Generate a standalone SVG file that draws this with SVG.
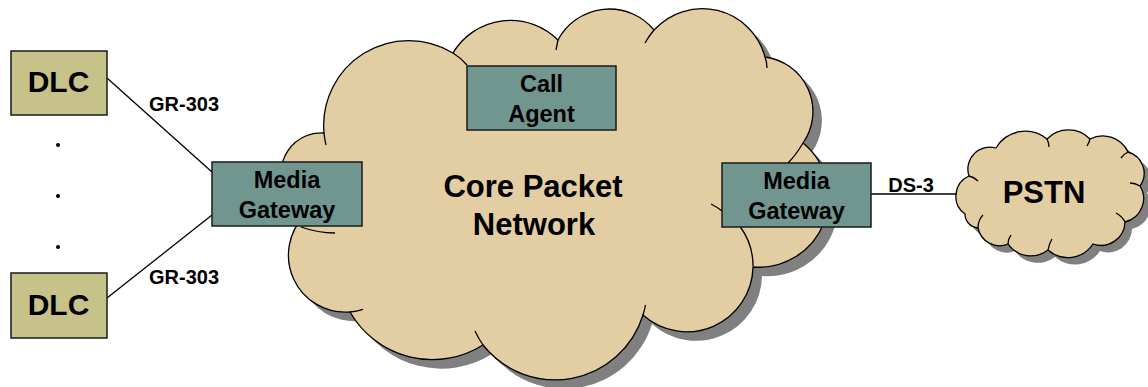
<svg xmlns="http://www.w3.org/2000/svg" width="1148" height="387" viewBox="0 0 1148 387">
  <style>
    text { font-family: "Liberation Sans", Arial, sans-serif; font-weight: bold; fill: #000; text-anchor: middle; }
    .cloud { fill: #E3CDA3; stroke: #000; stroke-width: 1.3; }
    .shadow { fill: #808080; stroke: none; }
    .tail { fill: none; stroke: #000; stroke-width: 1.3; }
    .box { fill: #70968F; stroke: #1a1a1a; stroke-width: 1.5; }
    .dlc { fill: #C6C28A; stroke: #1a1a1a; stroke-width: 1.5; }
    .link { fill: none; stroke: #000; stroke-width: 1.3; }
    .dot { fill: #000; }
    .big { font-size: 31px; }
    .mid { font-size: 23.5px; }
    .lbl { font-size: 20px; }
    .dlct { font-size: 30px; }
  </style>
  <defs>
    <!-- outline of the large network cloud -->
    <path id="coreShape" d="M 285 190 A 40 40 0 0 1 324 133 A 85 85 0 0 1 453 53 A 67 67 0 0 1 558 40 A 58 58 0 0 1 654 30 A 65 65 0 0 1 765 57 A 55 55 0 0 1 803 143 A 70 70 0 0 1 753 267 A 66 66 0 0 1 643 315 A 92 92 0 0 1 483 345 A 95 95 0 0 1 350 312 A 57 57 0 0 1 305 215 Z"/>
    <!-- outline of the small PSTN cloud -->
    <path id="pstnShape" d="M 965 214 A 22 22 0 0 1 969 176 A 22 22 0 0 1 996 148 A 34 34 0 0 1 1047 139 A 30 30 0 0 1 1090 139 A 28 28 0 0 1 1128 152 A 22 22 0 0 1 1140 186 A 24 24 0 0 1 1125 222 A 24 24 0 0 1 1093 244 A 30 30 0 0 1 1048 250 A 28 28 0 0 1 1008 244 A 22 22 0 0 1 978 228 A 14 14 0 0 1 965 214 Z"/>
  </defs>

  <rect x="0" y="0" width="1148" height="387" fill="#fff"/>

  <!-- core packet network cloud -->
  <g id="core-network">
    <use href="#coreShape" class="shadow" transform="translate(9,9)"/>
    <use href="#coreShape" class="cloud"/>
    <path class="tail" d="M 324 133 Q 324.5 139 326 145"/>
    <path class="tail" d="M 453 53 Q 461 58 467 65"/>
    <path class="tail" d="M 558 40 Q 557 45 556 50"/>
    <path class="tail" d="M 654 30 Q 649 36 645 43"/>
    <path class="tail" d="M 765 57 Q 767 62 767 68"/>
    <path class="tail" d="M 803 143 Q 796 155 788 163"/>
    <path class="tail" d="M 753 266 A 66 66 0 0 0 740.4 227"/>
    <path class="tail" d="M 711 204 Q 717 207 722 211"/>
    <path class="tail" d="M 643 315 A 92 92 0 0 0 645.5 305"/>
    <path class="tail" d="M 483 345 A 92 92 0 0 1 475 331"/>
    <path class="tail" d="M 350 312 A 57 57 0 0 0 363 309.4"/>
    <path class="tail" d="M 301 227 Q 318 233 335 233"/>
    <text class="big" x="533" y="197">Core Packet</text>
    <text class="big" x="534" y="235">Network</text>
  </g>

  <!-- PSTN cloud -->
  <g id="pstn">
    <use href="#pstnShape" class="shadow" transform="translate(7,7)"/>
    <use href="#pstnShape" class="cloud"/>
    <path class="tail" d="M 969 176 q 5 1 9 5"/>
    <path class="tail" d="M 1047 139 q 2 4 2 8"/>
    <path class="tail" d="M 1090 139 q -1 4 -3 7"/>
    <path class="tail" d="M 1128 152 q -4 2 -7 6"/>
    <path class="tail" d="M 1140 186 q -5 -3 -10 -3"/>
    <path class="tail" d="M 1125 222 q -3 -6 -9 -9"/>
    <path class="tail" d="M 1048 250 q 1 -6 4 -11"/>
    <path class="tail" d="M 1008 244 q 0 -5 3 -9"/>
    <path class="tail" d="M 978 228 q 0 -8 5 -13"/>
    <text class="big" x="1044" y="203">PSTN</text>
  </g>

  <!-- connectors -->
  <g id="connectors">
    <line class="link" x1="107" y1="78" x2="212" y2="172"/>
    <line class="link" x1="107" y1="298" x2="212" y2="215"/>
    <line class="link" x1="871" y1="194" x2="957" y2="194"/>
    <text class="lbl" x="184" y="111">GR-303</text>
    <text class="lbl" x="184" y="284">GR-303</text>
    <text class="lbl" x="911" y="192">DS-3</text>
  </g>

  <!-- access devices -->
  <g id="dlc-top">
    <rect class="dlc" x="11" y="51" width="96" height="64"/>
    <text class="dlct" x="58.5" y="92">DLC</text>
  </g>
  <g id="dlc-ellipsis">
    <circle class="dot" cx="58" cy="145" r="2"/>
    <circle class="dot" cx="58" cy="196" r="2"/>
    <circle class="dot" cx="58" cy="247" r="2"/>
  </g>
  <g id="dlc-bottom">
    <rect class="dlc" x="11" y="273" width="96" height="65"/>
    <text class="dlct" x="58.5" y="315">DLC</text>
  </g>

  <g id="gateway-left">
    <rect class="box" x="212" y="162" width="150" height="64"/>
    <text class="mid" x="287" y="188">Media</text>
    <text class="mid" x="287" y="218">Gateway</text>
  </g>

  <g id="call-agent">
    <rect class="box" x="467" y="66" width="149" height="64"/>
    <text class="mid" x="541.5" y="92">Call</text>
    <text class="mid" x="541.5" y="122">Agent</text>
  </g>

  <g id="gateway-right">
    <rect class="box" x="722" y="163" width="149" height="64"/>
    <text class="mid" x="796.5" y="189">Media</text>
    <text class="mid" x="796.5" y="219">Gateway</text>
  </g>
</svg>
